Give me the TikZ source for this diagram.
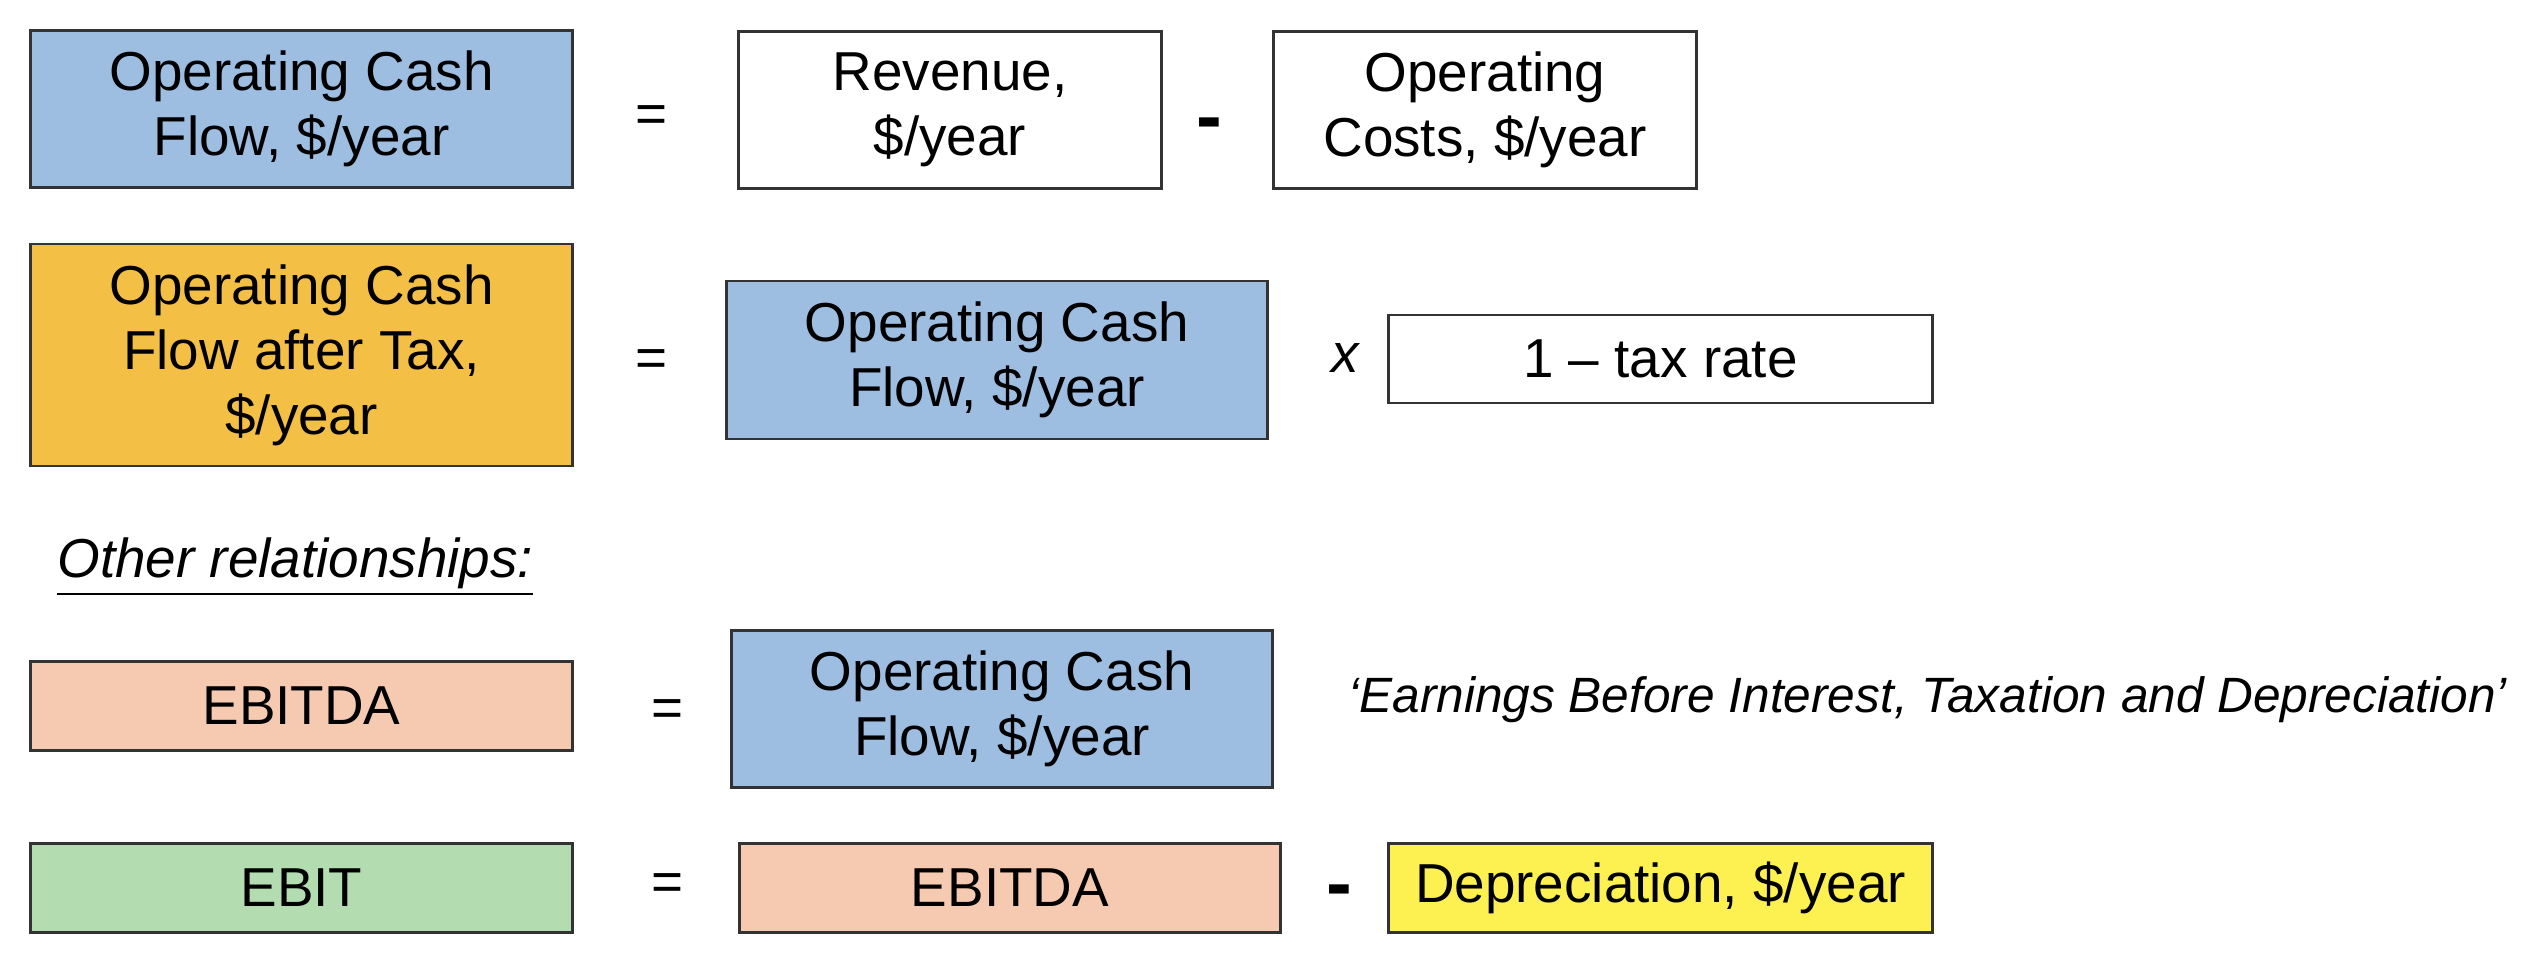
\documentclass[tikz,border=0pt]{standalone}
\usepackage{fontspec}
\setmainfont{Liberation Sans}
\definecolor{ocfblue}{HTML}{9DBDE1}
\definecolor{taxorange}{HTML}{F3BF45}
\definecolor{ebitdapeach}{HTML}{F5CAB0}
\definecolor{ebitgreen}{HTML}{B3DDB1}
\definecolor{depyellow}{HTML}{FDF152}
\definecolor{edge}{HTML}{333333}

\begin{document}
\begin{tikzpicture}[x=0.01cm,y=-0.01cm,
    box/.style={draw=edge,line width=0.8pt,align=center,inner sep=0pt,
      font=\fontsize{15.6}{18.5}\selectfont},
    wide/.style={box,minimum width=5.41cm},
    op/.style={font=\fontsize{15.6}{18.5}\selectfont}]

    \useasboundingbox (0,0) rectangle (2542,966);

    % operating cash flow
    \node[wide,fill=ocfblue,minimum height=1.57cm] (ocf) at (301.5,109) {Operating Cash\\Flow, \$/year};
    \node[op] (eqa) at (652,119) {=};
    \node[box,fill=white,minimum width=4.22cm,minimum height=1.57cm] (rev) at (950,110) {Revenue,\\\$/year};
    \node[op,font=\fontsize{22}{24}\selectfont\bfseries] (mina) at (1209,130) {-};
    \node[box,fill=white,minimum width=4.22cm,minimum height=1.57cm] (cost) at (1485,110) {Operating\\Costs, \$/year};

    % after tax
    \node[wide,fill=taxorange,minimum height=2.22cm] (ocfat) at (301.5,355) {Operating Cash\\Flow after Tax,\\\$/year};
    \node[op] (eqb) at (652,363) {=};
    \node[wide,fill=ocfblue,minimum height=1.58cm] (ocfb) at (997,360) {Operating Cash\\Flow, \$/year};
    \node[op,font=\fontsize{15.6}{18.5}\selectfont\itshape] (times) at (1345,358) {x};
    \node[box,fill=white,minimum width=5.43cm,minimum height=0.88cm] (tax) at (1660.5,359) {1 – tax rate};

    \node[op,anchor=west] (other) at (45,567) {\underline{\textit{Other relationships:}}};

    % ebitda
    \node[wide,fill=ebitdapeach,minimum height=0.89cm] (ebitda) at (301.5,706) {EBITDA};
    \node[op] (eqc) at (668,713) {=};
    \node[wide,fill=ocfblue,minimum height=1.57cm] (ocfc) at (1002,709) {Operating Cash\\Flow, \$/year};
    \node[anchor=west,font=\fontsize{14.1}{16}\selectfont\itshape] (expl) at (1336,700) {‘Earnings Before Interest, Taxation and Depreciation’};

    % ebit
    \node[wide,fill=ebitgreen,minimum height=0.89cm] (ebit) at (301.5,888) {EBIT};
    \node[op] (eqd) at (668,887) {=};
    \node[wide,fill=ebitdapeach,minimum height=0.89cm] (ebitdab) at (1010,888) {EBITDA};
    \node[op,font=\fontsize{22}{24}\selectfont\bfseries] (minb) at (1339,897) {-};
    \node[box,fill=depyellow,minimum width=5.43cm,minimum height=0.89cm] (dep) at (1660.5,888) {Depreciation, \$/year};

\end{tikzpicture}
\end{document}
